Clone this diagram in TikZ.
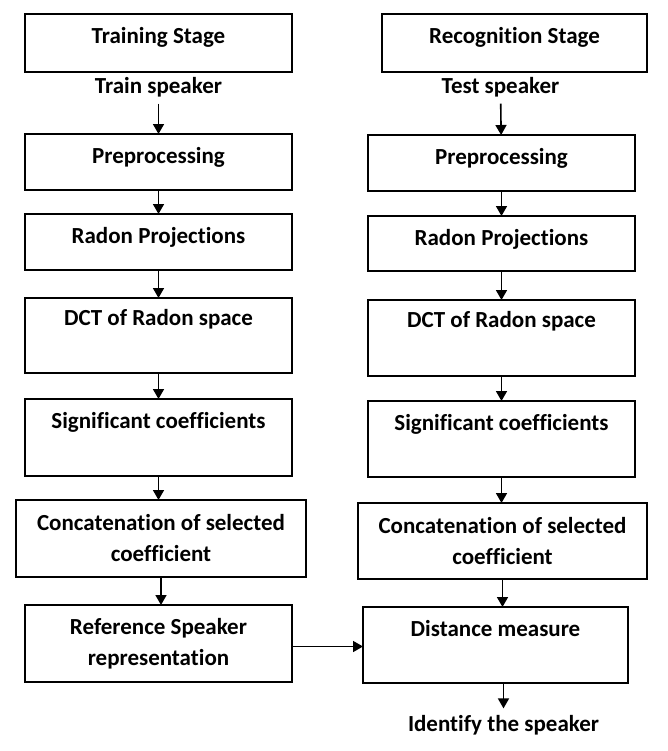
\documentclass[tikz,border=0pt]{standalone}
\usepackage{fontspec}
\setmainfont{Carlito}[Ligatures=NoCommon]
\usetikzlibrary{positioning, arrows.meta, calc}
\tikzstyle{arrow} = [line width=0.8pt,-{Triangle[width=5.5pt,length=5pt]}]
\tikzstyle{block} = [rectangle, draw, line width=0.9pt, outer sep=0pt, minimum width=133.5pt, inner xsep=2pt, font=\fontsize{11.5}{15.5}\selectfont\bfseries]
\tikzstyle{block_top} = [block, inner ysep=0pt, text height=14.5pt]
\tikzstyle{block_two} = [block, align=center, minimum height=38.5pt]
\tikzstyle{label_text} = [font=\fontsize{11.5}{15.5}\selectfont\bfseries, anchor=base]

\begin{document}
\begin{tikzpicture}
    \useasboundingbox (0,0) rectangle (334pt,-375.5pt);

    % training stage
    \node (train_stage) [block_top, anchor=north, text depth=14.5pt] at (79.25pt,-7pt) {Training Stage};
    \node (train_speaker) [label_text] at (79.25pt,-46.5pt) {Train speaker};
    \node (train_prep) [block_top, anchor=north, text depth=13.5pt] at (79.25pt,-67pt) {Preprocessing};
    \node (train_radon) [block_top, below=12pt of train_prep, text depth=13.5pt] {Radon Projections};
    \node (train_dct) [block_top, below=14pt of train_radon, text height=13.5pt, text depth=24pt] {DCT of Radon space};
    \node (train_sig) [block_top, below=13pt of train_dct, text depth=24pt] {Significant coefficients};
    \node (train_concat) [block_two, below=12pt of train_sig, xshift=1.25pt, minimum width=145pt] {Concatenation of selected\\coefficient};
    \node (train_ref) [block_two, below=14pt of train_concat, xshift=-1.25pt] {Reference Speaker\\representation};

    % recognition stage
    \node (test_stage) [block_top, anchor=north, text depth=14.5pt, minimum width=132.5pt] at (257.25pt,-7pt) {Recognition Stage};
    \node (test_speaker) [label_text] at (250.25pt,-46.5pt) {Test speaker};
    \node (test_prep) [block_top, anchor=north, text depth=13.5pt] at (250.75pt,-67.5pt) {Preprocessing};
    \node (test_radon) [block_top, below=12.5pt of test_prep, text depth=13pt] {Radon Projections};
    \node (test_dct) [block_top, below=14.5pt of test_radon, text height=13.5pt, text depth=24.5pt] {DCT of Radon space};
    \node (test_sig) [block_top, below=12.5pt of test_dct, text depth=23.5pt] {Significant coefficients};
    \node (test_concat) [block_two, below=13pt of test_sig, xshift=0.5pt, minimum width=144.5pt, minimum height=38pt] {Concatenation of selected\\coefficient};
    \node (test_dist) [block_top, below=14pt of test_concat, xshift=-3.5pt, minimum width=132.5pt, text depth=23.5pt] {Distance measure};
    \node (test_result) [label_text] at (251.75pt,-365.8pt) {Identify the speaker};

    \draw [arrow] (train_speaker) -- (train_prep);
    \draw [arrow] (test_speaker) -- (test_prep);
    \foreach \a/\b in {train_prep/train_radon, train_radon/train_dct, train_dct/train_sig, train_sig/train_concat, train_concat/train_ref, test_prep/test_radon, test_radon/test_dct, test_dct/test_sig, test_sig/test_concat, test_concat/test_dist}
        \draw [arrow] (\a.south) -- (\a.south |- \b.north);
    \draw [arrow] (test_result.north |- test_dist.south) -- (test_result);

    \coordinate (ref_out) at ([yshift=-1.5pt]train_ref.east);
    \draw [arrow] (ref_out) -- (ref_out -| test_dist.west);
\end{tikzpicture}
\end{document}
